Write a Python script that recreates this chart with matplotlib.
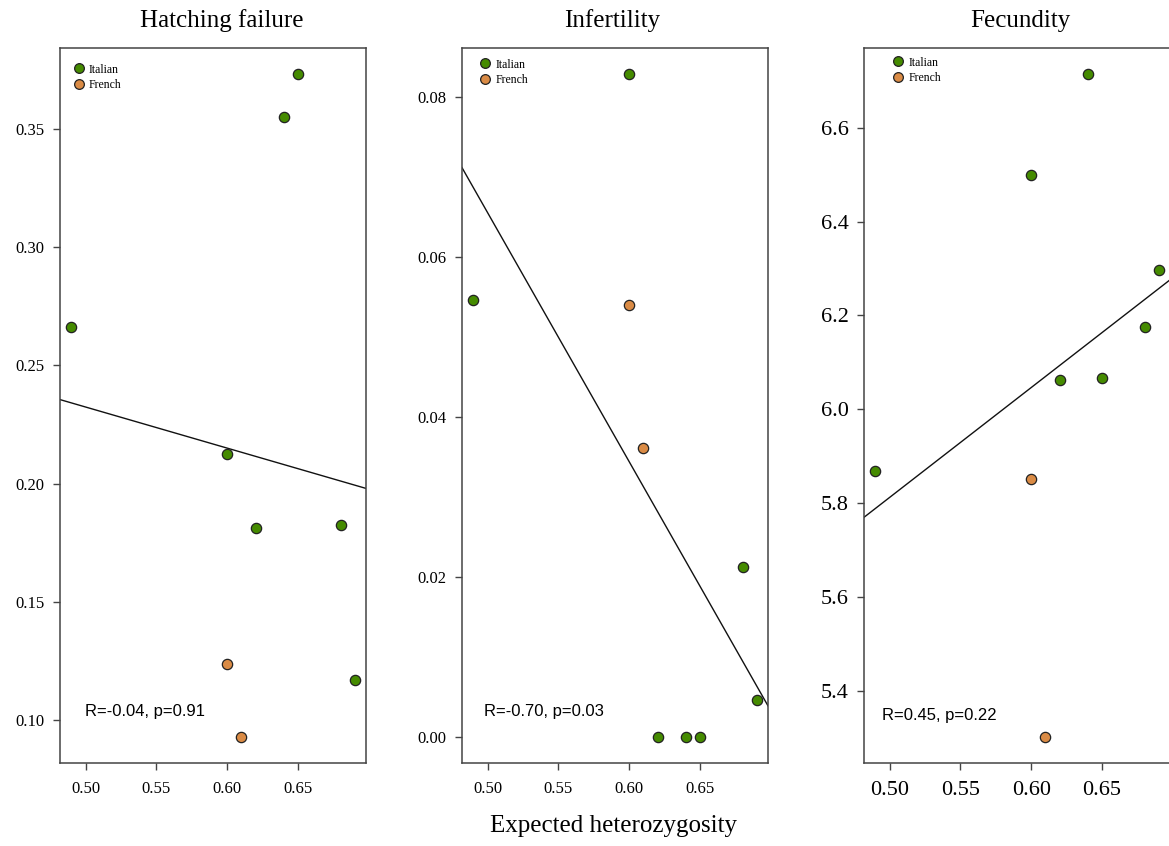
import numpy as np
import matplotlib
matplotlib.use("Agg")
import matplotlib.pyplot as plt
from matplotlib.lines import Line2D

# ── Data ──────────────────────────────────────────────────────────────────────
# expected heterozygosity of each population
het_italian = [0.49, 0.64, 0.65, 0.60, 0.62, 0.68, 0.69]
het_french  = [0.60, 0.61]

hatch_italian = [0.266, 0.355, 0.373, 0.2125, 0.181, 0.1825, 0.117]
hatch_french  = [0.1235, 0.093]

infert_italian = [0.0546, 0.0, 0.0, 0.0828, 0.0, 0.0212, 0.0046]
infert_french  = [0.054, 0.0361]

fecund_italian = [5.868, 6.714, 6.066, 6.50, 6.063, 6.176, 6.297]
fecund_french  = [5.852, 5.302]

titles = ["Hatching failure", "Infertility", "Fecundity"]
stats  = ["R=-0.04, p=0.91", "R=-0.70, p=0.03", "R=0.45, p=0.22"]
yticks = [[0.10, 0.15, 0.20, 0.25, 0.30, 0.35],
          [0.00, 0.02, 0.04, 0.06, 0.08],
          [5.4, 5.6, 5.8, 6.0, 6.2, 6.4, 6.6]]
ytick_labels = [["0.10", "0.15", "0.20", "0.25", "0.30", "0.35"],
                ["0.00", "0.02", "0.04", "0.06", "0.08"],
                ["5.4", "5.6", "5.8", "6.0", "6.2", "6.4", "6.6"]]
xticks = [0.50, 0.55, 0.60, 0.65]
xtick_labels = ["0.50", "0.55", "0.60", "0.65"]

GREEN  = "#458B00"
ORANGE = "#DA8B45"
SPINE  = "#444444"

panels = [(hatch_italian, hatch_french),
          (infert_italian, infert_french),
          (fecund_italian, fecund_french)]

# ── Figure ────────────────────────────────────────────────────────────────────
W, H = 1169, 846
fig = plt.figure(figsize=(W / 100, H / 100), dpi=100, facecolor="white")

lefts     = [60, 462, 864]
tick_fs   = [12, 12, 16]
stat_pos  = [(0.082, 0.072), (0.073, 0.072), (0.06, 0.066)]
title_x   = [0.527, 0.49, 0.51]
# legend marker offset from the axes' top-left corner, pixels
leg_off   = [(18.7, 22.7), (23.3, 17.7), (34.3, 15.7)]

for i, (yi, yf) in enumerate(panels):
    ax = fig.add_axes([lefts[i] / W, 83 / H, 306 / W, 715 / H])
    x_all = np.array(het_italian + het_french)
    y_all = np.array(yi + yf)

    # R-style 4% padding
    xr = x_all.max() - x_all.min()
    yr = y_all.max() - y_all.min()
    ax.set_xlim(x_all.min() - 0.04 * xr, x_all.max() + 0.04 * xr)
    ax.set_ylim(y_all.min() - 0.04 * yr, y_all.max() + 0.04 * yr)

    # least-squares line through all populations
    slope, icpt = np.polyfit(x_all, y_all, 1)
    ax.axline((0, icpt), slope=slope, color="#111111", lw=1.0, zorder=2)

    ax.scatter(het_italian, yi, s=55, c=GREEN, edgecolors="#222222",
               linewidths=0.9, zorder=3)
    ax.scatter(het_french, yf, s=55, c=ORANGE, edgecolors="#222222",
               linewidths=0.9, zorder=3)

    ax.set_xticks(xticks)
    ax.set_xticklabels(xtick_labels, family="Liberation Serif", fontsize=tick_fs[i])
    ax.set_yticks(yticks[i])
    ax.set_yticklabels(ytick_labels[i], family="Liberation Serif", fontsize=tick_fs[i])
    ax.tick_params(direction="out", length=5, width=1, color=SPINE, pad=6)
    ax.tick_params(axis="x", pad=8)
    for sp in ax.spines.values():
        sp.set_edgecolor(SPINE)
        sp.set_linewidth(1.1)

    ax.text(title_x[i], 1.0 + 27 / 715, titles[i], transform=ax.transAxes,
            ha="center", va="center", family="Liberation Serif", fontsize=18)
    ax.text(stat_pos[i][0], stat_pos[i][1], stats[i], transform=ax.transAxes,
            ha="left", va="center", family="Liberation Sans", fontsize=12)

    handles = [Line2D([], [], ls="none", marker="o", ms=7, mfc=GREEN,
                      mec="#222222", mew=0.9, label="Italian"),
               Line2D([], [], ls="none", marker="o", ms=7, mfc=ORANGE,
                      mec="#222222", mew=0.9, label="French")]
    fs = 8.5
    fs_px = fs * 100 / 72
    hl = 1.2
    lx = (leg_off[i][0] - hl * fs_px / 2) / 306
    ly = 1 - (leg_off[i][1] - fs_px * 0.6) / 715
    ax.legend(handles=handles, loc="upper left", bbox_to_anchor=(lx, ly),
              frameon=False, prop={"family": "Liberation Serif", "size": fs},
              handletextpad=0.25, labelspacing=0.3, borderaxespad=0,
              borderpad=0, handlelength=hl)

fig.text(613 / W, 1 - 826 / H, "Expected heterozygosity", ha="center", va="center",
         family="Liberation Serif", fontsize=18)

fig.savefig("out.png", dpi=100, facecolor="white")
